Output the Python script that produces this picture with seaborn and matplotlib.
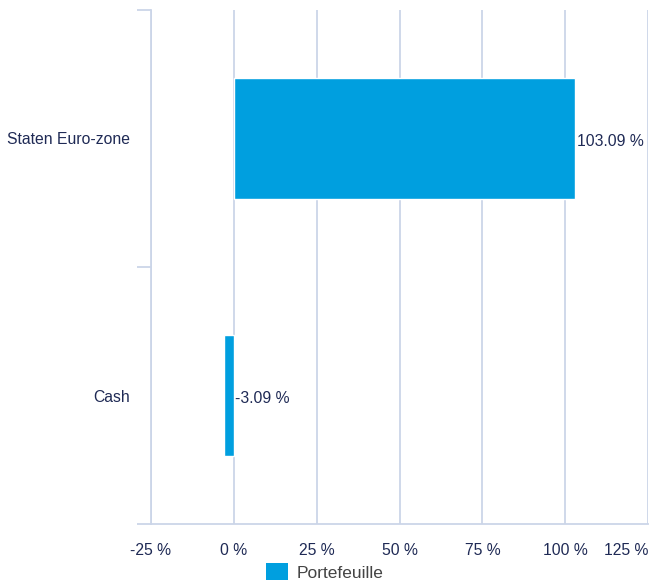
import pandas as pd
import seaborn as sns
import matplotlib.pyplot as plt
from matplotlib.patches import Patch

# data
categories = ["Staten Euro-zone", "Cash"]
values = [103.09, -3.09]
x_ticks = [-25, 0, 25, 50, 75, 100, 125]
series_name = "Portefeuille"

bar_color = "#009FDF"
grid_color = "#CBD5E8"
text_color = "#1F2A55"

sns.set_theme(style="white")
plt.rcParams["font.family"] = ["Liberation Sans", "DejaVu Sans"]

df = pd.DataFrame({"category": categories, "value": values})

fig = plt.figure(figsize=(6.49, 5.81), dpi=100)
ax = fig.add_axes([151 / 649, 1 - 524 / 581, 497 / 649, 514 / 581])

sns.barplot(data=df, x="value", y="category", orient="h", color=bar_color,
            width=0.47, saturation=1, ax=ax, zorder=3)

ax.set_xlim(-25, 125)
ax.set_ylim(1.5, -0.5)
ax.set_xticks(x_ticks)
ax.set_xticklabels([f"{t} %" for t in x_ticks])
ax.get_xticklabels()[-1].set_horizontalalignment("right")
ax.grid(axis="x", color=grid_color, linewidth=1.3, zorder=0)
ax.grid(axis="y", visible=False)
ax.set_xlabel("")
ax.set_ylabel("")

for s in ["top", "right"]:
    ax.spines[s].set_visible(False)
for s in ["left", "bottom"]:
    ax.spines[s].set_color(grid_color)
    ax.spines[s].set_linewidth(1.3)

ax.tick_params(axis="x", length=0, pad=14, labelsize=11.3, labelcolor=text_color)
ax.tick_params(axis="y", which="major", length=0, pad=15, labelsize=11.3,
               labelcolor=text_color)
ax.set_yticks([-0.5, 0.5, 1.5], minor=True)
ax.tick_params(axis="y", which="minor", left=True, length=10, width=1.3,
               color=grid_color, direction="out")

# value labels
for i, v in enumerate(values):
    ax.text(max(v, 0) + 0.4, i + 0.01, f"{v:.2f} %", ha="left", va="center",
            fontsize=11.3, color=text_color, zorder=4)

handle = Patch(facecolor=bar_color, edgecolor="none")
fig.legend([handle], [series_name], loc="center",
           bbox_to_anchor=(0.5, 9 / 581), frameon=False, fontsize=12.5,
           handlelength=1.25, handleheight=1.1, handletextpad=0.5,
           borderpad=0, labelcolor="#444444")

fig.savefig("out.png", dpi=100)
